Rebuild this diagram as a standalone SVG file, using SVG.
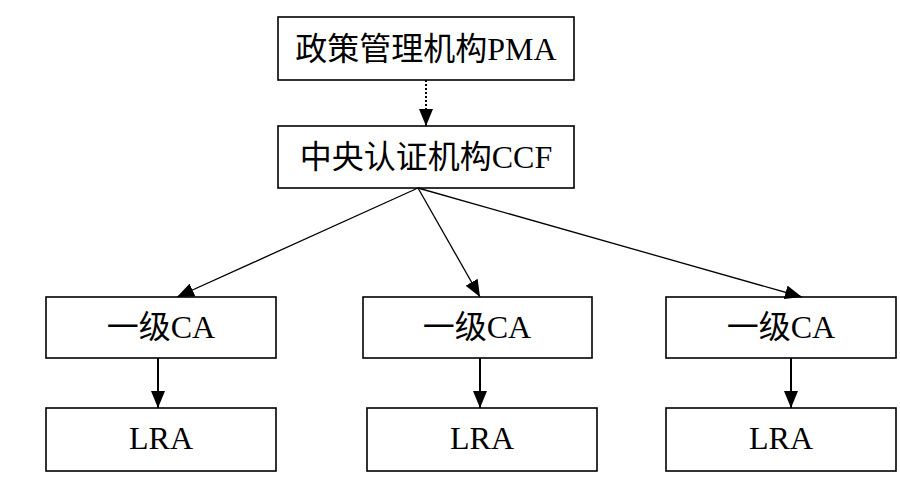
<svg xmlns="http://www.w3.org/2000/svg" width="900" height="494" viewBox="0 0 900 494">
<style>
.box{fill:#fff;stroke:#000;stroke-width:1.6}
.t{font-family:"Liberation Serif","Noto Sans CJK SC",serif;font-size:32px;fill:#000;text-anchor:middle}
.c{stroke:#000;stroke-width:1.3;fill:none}
.d{stroke:#000;stroke-width:2;fill:none}
</style>
<defs>
<marker id="ah" viewBox="0 0 17 14" refX="17" refY="7" markerWidth="17" markerHeight="14" markerUnits="userSpaceOnUse" orient="auto">
<path d="M0,0 L17,7 L0,14 Z" fill="#000"/>
</marker>
</defs>
<rect width="900" height="494" fill="#fff"/>
<g id="pma"><rect class="box" x="278" y="17" width="296" height="63"/><text class="t" x="426" y="60">政策管理机构PMA</text></g>
<g id="ccf"><rect class="box" x="278" y="126" width="296" height="62"/><text class="t" x="426" y="168">中央认证机构CCF</text></g>
<g id="ca1"><rect class="box" x="46" y="297" width="230" height="61"/><text class="t" x="161" y="338">一级CA</text></g>
<g id="ca2"><rect class="box" x="363" y="297" width="229" height="61"/><text class="t" x="477" y="338">一级CA</text></g>
<g id="ca3"><rect class="box" x="666" y="297" width="230" height="61"/><text class="t" x="781" y="338">一级CA</text></g>
<g id="lra1"><rect class="box" x="46" y="408" width="230" height="63"/><text class="t" x="161" y="449">LRA</text></g>
<g id="lra2"><rect class="box" x="367" y="408" width="230" height="63"/><text class="t" x="482" y="449">LRA</text></g>
<g id="lra3"><rect class="box" x="666" y="408" width="230" height="63"/><text class="t" x="781" y="449">LRA</text></g>
<g id="connectors">
<line class="d" x1="426" y1="80" x2="426" y2="126" stroke-dasharray="2,2" marker-end="url(#ah)"/>
<line class="c" x1="418" y1="188" x2="177" y2="297" marker-end="url(#ah)"/>
<line class="c" x1="418" y1="188" x2="480" y2="297" marker-end="url(#ah)"/>
<line class="c" x1="418" y1="188" x2="802" y2="297" marker-end="url(#ah)"/>
<line class="d" x1="158" y1="358" x2="158" y2="408" marker-end="url(#ah)"/>
<line class="d" x1="480" y1="358" x2="480" y2="408" marker-end="url(#ah)"/>
<line class="d" x1="791" y1="358" x2="791" y2="408" marker-end="url(#ah)"/>
</g>
</svg>
